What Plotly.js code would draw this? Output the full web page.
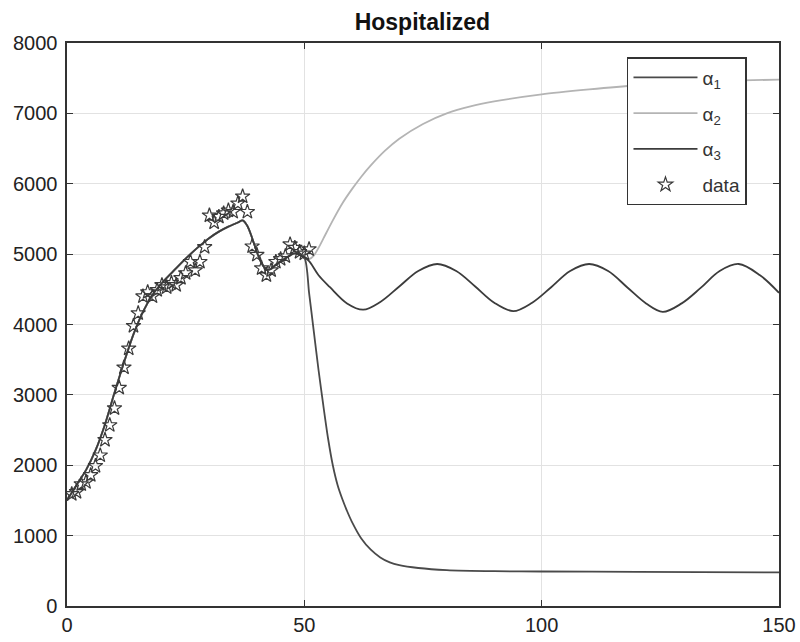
<!DOCTYPE html>
<html>
<head>
<meta charset="utf-8">
<script src="https://cdn.plot.ly/plotly-3.0.1.min.js"></script>
<style>html,body{margin:0;padding:0;background:#fff;}#chart{width:800px;height:642px;}</style>
</head>
<body>
<div id="chart"></div>
<script>
// Shared fitted curve (all three scenarios coincide up to day 50)
const fitDays = [0,2,4,6,8,10,12,14,16,18,20,22,24,26,28,30,32,34,36,37,38,39,40,41,42,43,44,46,48,50];
const fitVals = [1500,1720,1930,2210,2580,3030,3460,3860,4180,4420,4590,4730,4870,5000,5120,5230,5320,5390,5450,5480,5400,5230,5030,4870,4780,4790,4850,4940,5010,4950];

// Scenario alpha_1 (decline)
const a1Days = [51,52,53,54,55,56,57,58,59,60,62,64,66,68,70,74,80,90,100,120,150];
const a1Vals = [4450,3900,3350,2850,2380,2000,1720,1520,1350,1200,960,800,690,620,580,540,510,495,490,485,478];

// Scenario alpha_2 (growth)
const a2Days = [51,52,53,54,56,58,60,62,64,67,70,75,80,85,90,100,110,120,130,140,150];
const a2Vals = [4930,4980,5090,5220,5480,5720,5920,6100,6260,6470,6640,6850,7000,7100,7170,7270,7340,7400,7440,7465,7480];

// Scenario alpha_3 (oscillation)
const a3Days = [51,53,55.4,59,62.4,66,70,74,78,82,86,90,94,98,102,106,110,114,118,122,125.5,129.5,133.5,137.5,141.5,146,150];
const a3Vals = [4900,4700,4530,4300,4210,4320,4540,4760,4860,4760,4540,4310,4190,4310,4530,4760,4860,4760,4530,4300,4180,4300,4520,4760,4860,4700,4450];

// Observed data
const dataDays = [1,2,3,4,5,6,7,8,9,10,11,12,13,14,15,16,17,18,19,20,21,22,23,24,25,26,27,28,29,30,31,32,33,34,35,36,37,38,39,40,41,42,43,44,45,46,47,48,49,50,51];
const dataVals = [1590,1620,1730,1760,1860,1990,2140,2360,2570,2810,3100,3390,3660,3980,4160,4400,4460,4400,4490,4560,4530,4590,4560,4660,4730,4890,4770,4890,5100,5550,5450,5530,5580,5620,5600,5720,5820,5600,5110,4990,4800,4700,4770,4890,4930,4970,5140,5090,5030,5010,5070];

const seriesNames = ['α<sub>1</sub>', 'α<sub>2</sub>', 'α<sub>3</sub>', 'data'];
const xTicks = [0,50,100,150];
const yTicks = [0,1000,2000,3000,4000,5000,6000,7000,8000];

const cat = (a,b) => a.concat(b);

const traces = [
  {x: cat(fitDays,a1Days), y: cat(fitVals,a1Vals), name: seriesNames[0], mode:'lines',
   line:{color:'#4a4a4a', width:1.8, shape:'spline', smoothing:0.7}, legendgroup:'g1'},
  {x: cat(fitDays,a2Days), y: cat(fitVals,a2Vals), name: seriesNames[1], mode:'lines',
   line:{color:'#b4b4b4', width:1.8, shape:'spline', smoothing:0.7}, legendgroup:'g2'},
  {x: cat(fitDays,a3Days), y: cat(fitVals,a3Vals), name: seriesNames[2], mode:'lines',
   line:{color:'#3c3c3c', width:1.8, shape:'spline', smoothing:1.0}, legendgroup:'g3'},
  {x: dataDays, y: dataVals, name: seriesNames[3], mode:'markers',
   marker:{symbol:'star-open', size:11, color:'#3a3a3a', line:{width:1.2, color:'#3a3a3a'}}, legendgroup:'g4'}
];

const axisCommon = {
  showline:true, linecolor:'#333', linewidth:1.6, mirror:'ticks',
  ticks:'inside', ticklen:6, tickcolor:'#333', tickwidth:1.2,
  showgrid:true, gridcolor:'#e2e2e2', gridwidth:1, zeroline:false,
  tickfont:{family:'Liberation Sans, Arial, sans-serif', size:20, color:'#222'}
};

const layout = {
  width:800, height:642,
  margin:{l:67, r:21, t:43, b:36, pad:0},
  paper_bgcolor:'#fff', plot_bgcolor:'#fff',
  title:{text:'<b>Hospitalized</b>', x:0.528, xanchor:'center', y:0.966, yanchor:'middle', yref:'container',
         font:{family:'Liberation Sans, Arial, sans-serif', size:23, color:'#111'}},
  xaxis: Object.assign({}, axisCommon, {range:[0,150], tickvals:xTicks, ticktext:xTicks.map(String)}),
  yaxis: Object.assign({}, axisCommon, {range:[0,8000], tickvals:yTicks, ticktext:yTicks.map(String), ticklabelstandoff:4}),
  showlegend:true,
  legend:{x:0.7865, xanchor:'left', y:0.975, yanchor:'top', bgcolor:'#fff', bordercolor:'#333', borderwidth:1.5,
          font:{family:'Liberation Sans, Arial, sans-serif', size:19, color:'#333'},
          itemwidth:64, traceorder:'grouped', tracegroupgap:8}
};

Plotly.newPlot('chart', traces, layout, {displayModeBar:false, staticPlot:true});
</script>
</body>
</html>
